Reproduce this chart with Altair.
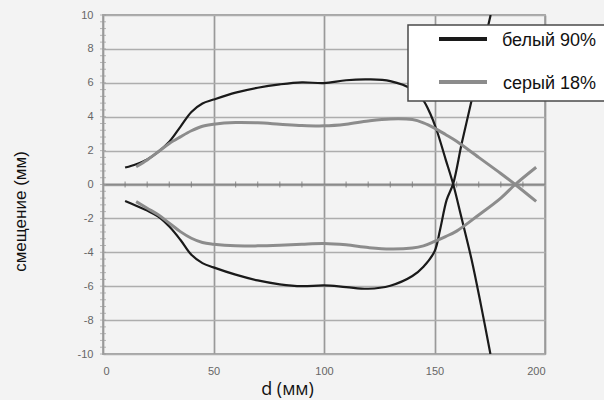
import altair as alt
import pandas as pd

# Distance d (mm) and displacement (mm) for the two targets
white_upper_d = [10, 15, 20, 25, 30, 35, 40, 45, 50, 60, 70, 80, 90, 100, 110, 120, 130, 140, 145, 148, 151, 155, 158.5, 162, 166.8, 171, 175.3]
white_upper_y = [1.0, 1.2, 1.48, 1.93, 2.52, 3.4, 4.28, 4.78, 5.01, 5.42, 5.71, 5.91, 6.03, 5.98, 6.15, 6.2, 6.1, 5.6, 4.95, 4.2, 3.2, 1.5, 0.0, -1.85, -4.44, -7.1, -10.0]

white_lower_d = [10, 15, 20, 25, 30, 35, 40, 45, 50, 60, 70, 80, 90, 100, 110, 120, 130, 140, 145, 150, 152.5, 155.5, 158.5, 162.3, 166.8, 171, 175.4]
white_lower_y = [-0.97, -1.25, -1.54, -1.89, -2.48, -3.26, -4.15, -4.64, -4.89, -5.32, -5.66, -5.89, -6.0, -5.95, -6.05, -6.15, -5.97, -5.4, -4.85, -3.95, -2.68, -0.91, 0.07, 2.42, 4.97, 7.5, 10.0]

grey_upper_d = [15, 20, 25, 30, 35, 40, 45, 50, 60, 70, 80, 90, 100, 110, 120, 130, 140, 145, 150, 155, 160, 170, 180, 186.5, 196]
grey_upper_y = [1.05, 1.45, 1.93, 2.42, 2.81, 3.17, 3.44, 3.56, 3.66, 3.64, 3.56, 3.48, 3.46, 3.56, 3.75, 3.87, 3.83, 3.64, 3.33, 2.95, 2.55, 1.6, 0.65, 0.0, -1.0]

grey_lower_d = [15, 20, 25, 30, 35, 40, 45, 50, 60, 70, 80, 90, 100, 110, 120, 130, 140, 145, 150, 155, 160, 170, 180, 186.5, 196]
grey_lower_y = [-1.01, -1.4, -1.79, -2.28, -2.78, -3.17, -3.42, -3.52, -3.62, -3.62, -3.58, -3.52, -3.48, -3.56, -3.72, -3.81, -3.75, -3.62, -3.36, -3.07, -2.75, -1.8, -0.8, 0.0, 1.02]

series_names = ["белый 90%", "серый 18%"]
series_colors = ["#1a1a1a", "#8c8c8c"]

x_ticks = [0, 50, 100, 150, 200]
y_ticks = [-10, -8, -6, -4, -2, 0, 2, 4, 6, 8, 10]
x_minor = [10, 20, 30, 40, 60, 70, 80, 90, 110, 120, 130, 140, 160, 170, 180, 190]
y_minor = [v / 10 for v in range(-100, 101, 4)]

rows = []
for name, branch, xs, ys in [
    (series_names[0], "upper", white_upper_d, white_upper_y),
    (series_names[0], "lower", white_lower_d, white_lower_y),
    (series_names[1], "upper", grey_upper_d, grey_upper_y),
    (series_names[1], "lower", grey_lower_d, grey_lower_y),
]:
    for i, (xv, yv) in enumerate(zip(xs, ys)):
        rows.append({"series": name, "branch": branch, "d": xv, "shift": yv, "order": i})
df = pd.DataFrame(rows)
df["key"] = df["series"] + "_" + df["branch"]

x_scale = alt.Scale(domain=[0, 200], nice=False, zero=False)
y_scale = alt.Scale(domain=[-10, 10], nice=False, zero=False)
color_scale = alt.Scale(domain=series_names, range=series_colors)

W, H = 442, 339

x_axis = alt.Axis(values=x_ticks, title="d (мм)", grid=True, gridColor="#999999", gridWidth=1.7,
                  ticks=False, domain=False, labelPadding=11, labelFontSize=11, labelColor="#666666",
                  labelFont="Liberation Sans", labelOverlap=False, labelExpr="datum.value + ''",
                  titleFont="Open Sans", titleFontSize=18,
                  titleFontWeight="normal", titleColor="#111111",
                  titleX=184, titleY=35, titleBaseline="middle", titleAlign="center")
y_axis = alt.Axis(values=y_ticks, title="смещение (мм)", grid=True, gridColor="#adadad", gridWidth=1.7,
                  ticks=False, domain=False, labelPadding=10, labelFontSize=11, labelColor="#666666",
                  labelFont="Liberation Sans", labelOverlap=False, labelExpr="datum.value + ''",
                  titleFont="Liberation Sans", titleFontSize=17,
                  titleFontWeight="normal", titleColor="#111111",
                  titleX=-83, titleY=196, titleBaseline="middle", titleAlign="center", titleAngle=-90)


def xenc():
    return alt.X("d:Q", scale=x_scale, axis=x_axis)


def yenc():
    return alt.Y("shift:Q", scale=y_scale, axis=y_axis)


lines = alt.Chart(df).mark_line(interpolate="catmull-rom", clip=True).encode(
    x=xenc(),
    y=yenc(),
    color=alt.Color("series:N", scale=color_scale, legend=None),
    strokeWidth=alt.condition(alt.datum.series == series_names[0], alt.value(2.2), alt.value(3)),
    detail="key:N",
    order="order:Q",
)

# horizontal axis line through zero with its minor ticks
zero_df = pd.DataFrame({"d": [0], "shift": [0]})
zero_line = alt.Chart(zero_df).mark_rule(color="#8a8a8a", strokeWidth=1.8).encode(y=yenc())

xminor_df = pd.DataFrame({"d": x_minor, "shift": [0] * len(x_minor)})
xminor = alt.Chart(xminor_df).mark_tick(orient="vertical", size=6, thickness=1.2, color="#777777").encode(
    x=xenc(), y=yenc())

yminor_df = pd.DataFrame({"d": [0] * len(y_minor), "shift": y_minor})
yminor = alt.Chart(yminor_df).mark_tick(orient="horizontal", size=6, thickness=1, color="#9a9a9a").encode(
    x=xenc(), y=yenc())

# legend box drawn inside the plot frame
box_df = pd.DataFrame({"k": [0]})
legend_box = alt.Chart(box_df).mark_rect(fill="white", stroke="#4a4a4a", strokeWidth=1.5).encode(
    x=alt.value(305), x2=alt.value(520), y=alt.value(10), y2=alt.value(86))

leg_df = pd.DataFrame({"series": series_names, "i": [0, 1]})
leg_base = alt.Chart(leg_df).transform_calculate(ly="24 + datum.i * 43")
legend_lines = leg_base.mark_rule(strokeWidth=4).encode(
    x=alt.value(336), x2=alt.value(384),
    y=alt.Y("ly:Q", scale=None),
    color=alt.Color("series:N", scale=color_scale, legend=None),
)
legend_text = leg_base.mark_text(align="right", baseline="middle", fontSize=18, font="Liberation Sans",
                                 color="#111111", dy=2).encode(
    x=alt.value(493), y=alt.Y("ly:Q", scale=None), text="series:N")

chart = alt.layer(zero_line, xminor, yminor, lines, legend_box, legend_lines, legend_text).properties(
    width=W, height=H,
    autosize=alt.AutoSizeParams(type="none"),
    padding={"left": 103, "top": 15, "right": 59, "bottom": 46},
    background="#f3f3f3",
).configure_view(stroke="#a6a6a6", strokeWidth=1.8, fill="#f3f3f3")

chart.save("out.html", embed_options={"renderer": "svg", "actions": False})
